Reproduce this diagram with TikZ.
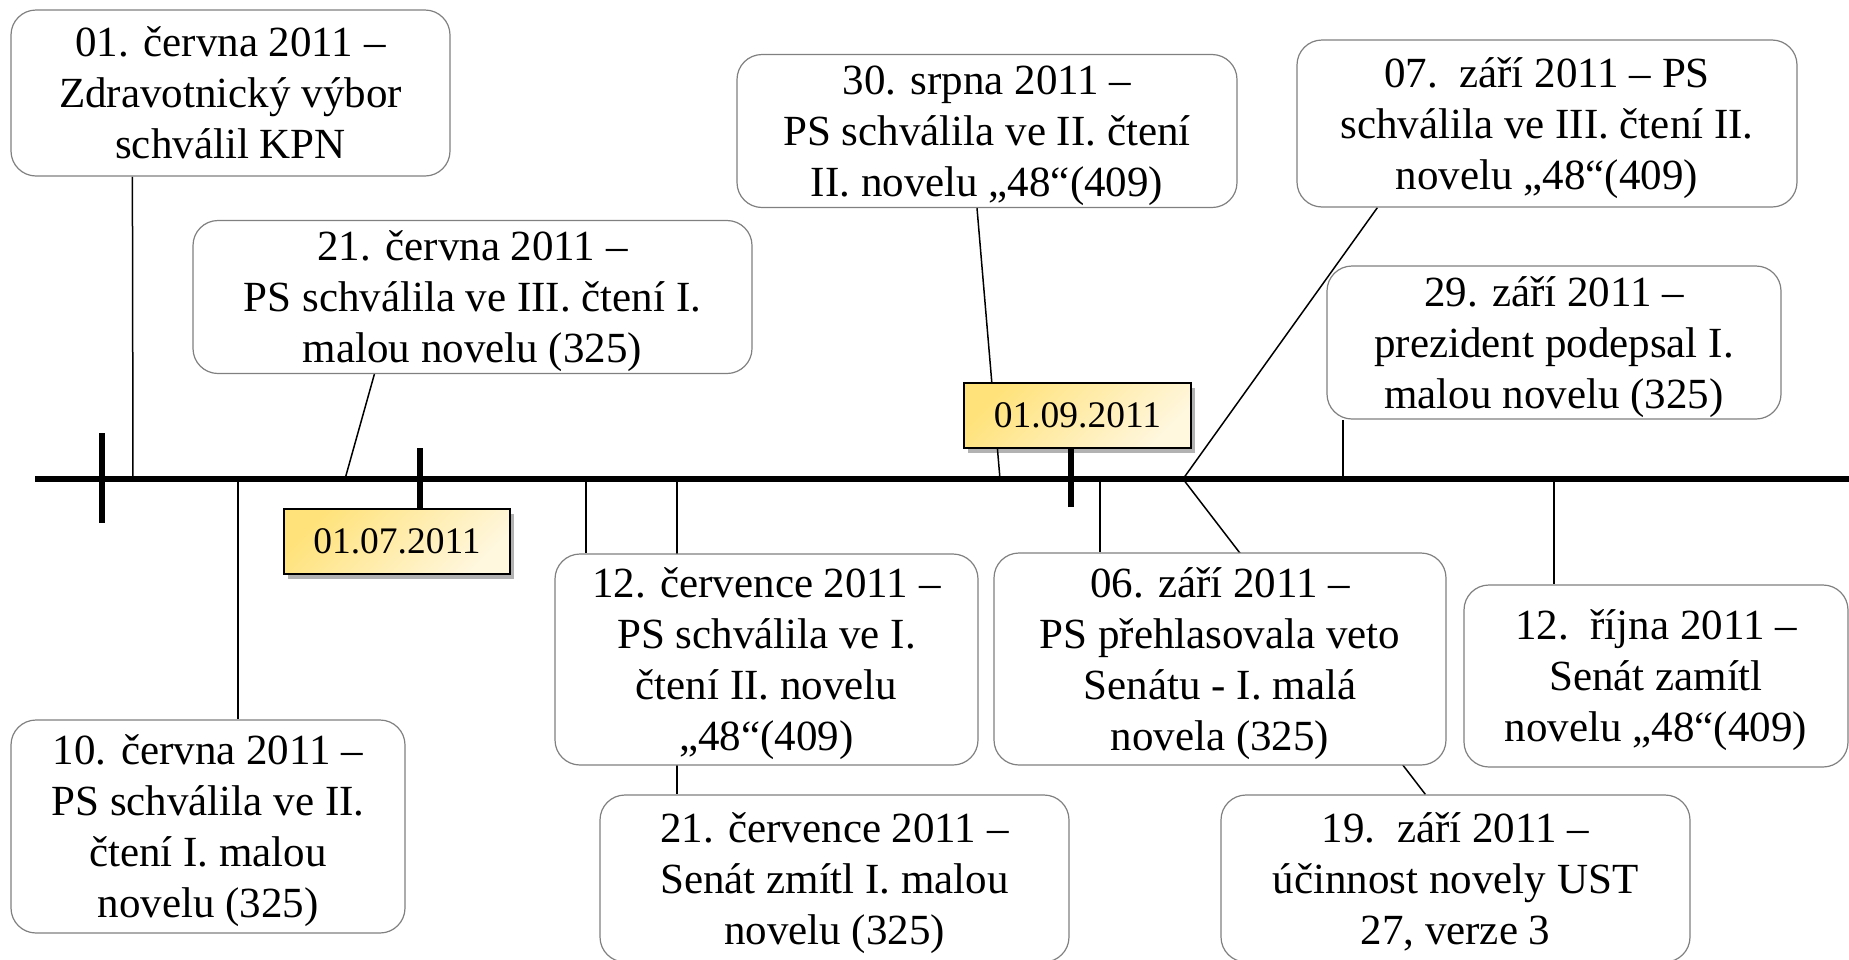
\documentclass[tikz,border=0pt]{standalone}
\usepackage{fontspec}
\setmainfont{Liberation Serif}
\usetikzlibrary{shadows,backgrounds,calc}
\definecolor{boxgray}{HTML}{808080}
\definecolor{ylA}{HTML}{FFE27A}
\definecolor{ylB}{HTML}{FFF7DE}
\newcommand\lsx{\rule[-11pt]{0pt}{51pt}}
\tikzset{
 evbox/.style={draw=boxgray, line width=1.2pt, fill=white, rounded corners=25pt, align=center, inner sep=0pt, font=\fontsize{43}{51}\selectfont},
 datebox/.style={draw=black, line width=1.3pt, top color=ylA, bottom color=ylB, shading angle=45, inner sep=0pt, font=\fontsize{37.5}{40}\selectfont, drop shadow={shadow xshift=4pt, shadow yshift=-5pt, opacity=0.3, fill=black}},
 conn/.style={draw=black, line width=1.5pt},
 axisline/.style={draw=black, line width=5.5pt},
}
\begin{document}
\begin{tikzpicture}[x=1pt,y=-1pt]
\useasboundingbox (0,0) rectangle (1849,959);
% event boxes
\node[evbox, minimum width=439pt, minimum height=166pt] (A) at (230.5,93) {\lsx 01. června 2011 –\\\lsx Zdravotnický výbor\\\lsx schválil KPN};
\node[evbox, minimum width=559pt, minimum height=152pt] (B) at (472.5,297) {\lsx 21. června 2011 –\\\lsx PS schválila ve III. čtení I.\\\lsx malou novelu (325)};
\node[evbox, minimum width=500pt, minimum height=152pt] (C) at (987,131) {\lsx 30. srpna 2011 –\\\lsx PS schválila ve II. čtení\\\lsx II. novelu „48“(409)};
\node[evbox, minimum width=500pt, minimum height=167pt] (D) at (1547,123.5) {\lsx 07.~~září 2011 – PS\\\lsx schválila ve III. čtení II.\\\lsx novelu „48“(409)};
\node[evbox, minimum width=454pt, minimum height=151pt] (E) at (1554,342.5) {\lsx 29. září 2011 –\\\lsx prezident podepsal I.\\\lsx malou novelu (325)};
\node[evbox, minimum width=394pt, minimum height=213pt] (F) at (208,826.5) {\lsx 10. června 2011 –\\\lsx PS schválila ve II.\\\lsx čtení I. malou\\\lsx novelu (325)};
\node[evbox, minimum width=423pt, minimum height=211pt] (G) at (766.5,659.5) {\lsx 12. července 2011 –\\\lsx PS schválila ve I.\\\lsx čtení II. novelu\\\lsx „48“(409)};
\node[evbox, minimum width=469pt, minimum height=167pt] (H) at (834.5,878.5) {\lsx 21. července 2011 –\\\lsx Senát zmítl I. malou\\\lsx novelu (325)};
\node[evbox, minimum width=452pt, minimum height=212pt] (I) at (1220,659) {\lsx 06. září 2011 –\\\lsx PS přehlasovala veto\\\lsx Senátu - I. malá\\\lsx novela (325)};
\node[evbox, minimum width=469pt, minimum height=167pt] (J) at (1455.5,878.5) {\lsx 19.~~září 2011 –\\\lsx účinnost novely UST\\\lsx 27, verze 3};
\node[evbox, minimum width=384pt, minimum height=182pt] (K) at (1656,676) {\lsx 12.~~října 2011 –\\\lsx Senát zamítl\\\lsx novelu „48“(409)};
% points on the axis
\coordinate (ax0) at (35,479);
\coordinate (ax1) at (1860,479);
\coordinate (pA) at (133,479);
\coordinate (pB) at (345,479);
\coordinate (pC) at (1000,479);
\coordinate (pD) at (1183,479);
\coordinate (pE) at (1343,479);
\coordinate (pF) at (238,479);
\coordinate (pG) at (586,479);
\coordinate (pH) at (677,479);
\coordinate (pI) at (1100,479);
\coordinate (pK) at (1554,479);
% connectors behind boxes
\begin{scope}[on background layer]
\draw[conn] ([xshift=122pt]A.south west) -- (pA);
\draw[conn] ([xshift=182pt]B.south west) -- (pB);
\draw[conn] ([xshift=-10pt]C.south) -- (pC);
\draw[conn] ([xshift=81pt]D.south west) -- (pD);
\draw[conn] (pD) -- ([xshift=205pt]J.north west);
\draw[conn] (pE) -- (pE |- E.south);
\draw[conn] (pF) -- (pF |- F.north);
\draw[conn] (pG) -- (pG |- G.north);
\draw[conn] (pH) -- (pH |- H.north);
\draw[conn] (pI) -- (pI |- I.north);
\draw[conn] (pK) -- (pK |- K.north);
\end{scope}
% axis and ticks
\draw[axisline] (ax0) -- (ax1);
\coordinate (tk1a) at (102,433);
\coordinate (tk1b) at (102,523);
\draw[axisline] (tk1a) -- (tk1b);
% date boxes
\node[datebox, minimum width=226pt, minimum height=65pt] (Y1) at (397,541.5) {01.07.2011};
\node[datebox, minimum width=227pt, minimum height=65pt] (Y2) at (1077.5,415.5) {01.09.2011};
\coordinate (tk2a) at (420,448);
\coordinate (tk3b) at (1071,507);
\draw[axisline] (tk2a) -- (tk2a |- Y1.north);
\draw[axisline] (tk3b) -- (tk3b |- Y2.south);
\end{tikzpicture}
\end{document}
